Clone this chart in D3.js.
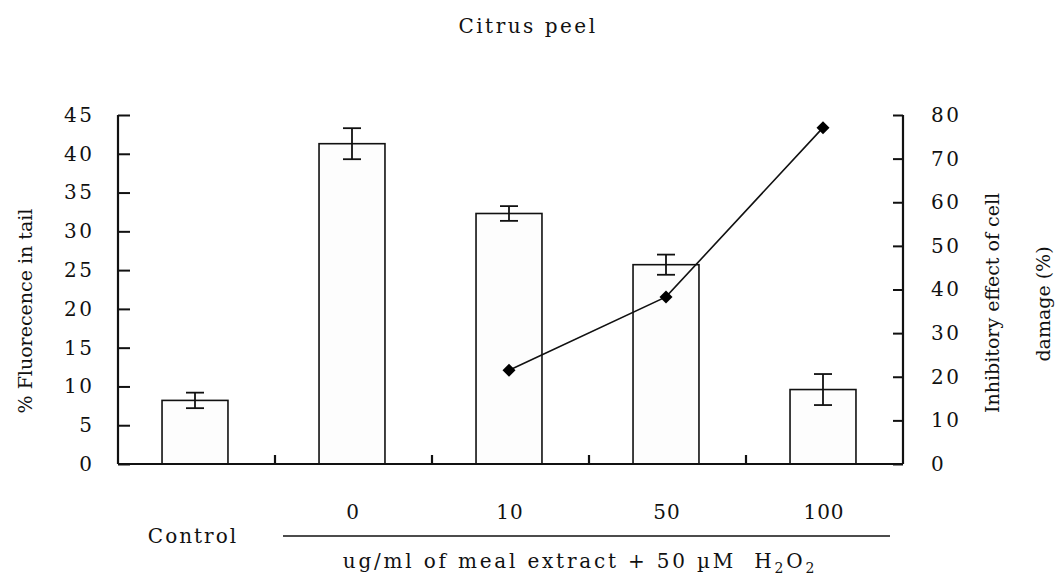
<!DOCTYPE html>
<html>
<head>
<meta charset="utf-8">
<script src="https://cdn.jsdelivr.net/npm/d3@7"></script>
<style>
  html, body { margin: 0; padding: 0; background: #fff; }
  svg { display: block; }
  text { font-family: "DejaVu Serif", serif; fill: #111; }
</style>
</head>
<body>
<svg id="chart" width="1059" height="576"></svg>
<script>
// Comet assay: % fluorescence in tail (bars, left axis) and
// inhibitory effect on cell damage (line, right axis)
const categories   = ["Control", "0", "10", "50", "100"];
const fluorescence = [8.2, 41.3, 32.3, 25.7, 9.6];
const fluorErr     = [1.0, 2.0, 0.95, 1.3, 2.0];
const inhibition   = [null, null, 21.5, 38.3, 77.1];
const leftTicks    = [0, 5, 10, 15, 20, 25, 30, 35, 40, 45];
const rightTicks   = [0, 10, 20, 30, 40, 50, 60, 70, 80];

const svg = d3.select("#chart");
const plot = { left: 118, right: 903, top: 115, bottom: 464 };

const x = d3.scaleBand().domain(categories).range([plot.left, plot.right]).padding(0);
const yL = d3.scaleLinear().domain([0, 45]).range([plot.bottom, plot.top]);
const yR = d3.scaleLinear().domain([0, 80]).range([plot.bottom, plot.top]);
const barW = x.bandwidth() * 0.42;
const cx = c => x(c) + x.bandwidth() / 2 - 1.5;

// Title
svg.append("text")
  .attr("x", 528).attr("y", 33)
  .attr("text-anchor", "middle")
  .style("font-size", "20px").style("letter-spacing", "2.5px")
  .text("Citrus peel");

// Bars
const data = categories.map((c, i) => ({ c, v: fluorescence[i], e: fluorErr[i], r: inhibition[i] }));
svg.append("g").selectAll("rect").data(data).join("rect")
  .attr("x", d => cx(d.c) - barW / 2)
  .attr("y", d => yL(d.v))
  .attr("width", barW)
  .attr("height", d => yL(0) - yL(d.v))
  .attr("fill", "#fdfdfd")
  .attr("stroke", "#111")
  .attr("stroke-width", 1.6);

// Error bars
const eb = svg.append("g").attr("stroke", "#111").attr("stroke-width", 1.8);
data.forEach(d => {
  const xc = cx(d.c);
  eb.append("line").attr("x1", xc).attr("x2", xc).attr("y1", yL(d.v + d.e)).attr("y2", yL(d.v - d.e));
  eb.append("line").attr("x1", xc - 9).attr("x2", xc + 9).attr("y1", yL(d.v + d.e)).attr("y2", yL(d.v + d.e));
  eb.append("line").attr("x1", xc - 9).attr("x2", xc + 9).attr("y1", yL(d.v - d.e)).attr("y2", yL(d.v - d.e));
});

// Inhibition line with diamond markers
const pts = data.filter(d => d.r !== null);
svg.append("path")
  .datum(pts)
  .attr("fill", "none").attr("stroke", "#111").attr("stroke-width", 1.6)
  .attr("d", d3.line().x(d => cx(d.c)).y(d => yR(d.r)));
svg.append("g").selectAll("path").data(pts).join("path")
  .attr("transform", d => `translate(${cx(d.c)},${yR(d.r)}) rotate(45)`)
  .attr("d", d3.symbol(d3.symbolSquare, 85)())
  .attr("fill", "#000");

// Left axis
const axL = svg.append("g").attr("transform", `translate(${plot.left},0)`)
  .call(d3.axisLeft(yL).tickValues(leftTicks).tickSizeInner(-12).tickSizeOuter(0).tickPadding(26));
// Right axis
const axR = svg.append("g").attr("transform", `translate(${plot.right},0)`)
  .call(d3.axisRight(yR).tickValues(rightTicks).tickSizeInner(-10).tickSizeOuter(0).tickPadding(28));
[axL, axR].forEach(a => {
  a.select(".domain").attr("stroke", "#111").attr("stroke-width", 2.2)
    .attr("d", `M0,${plot.top}V${plot.bottom}`);
  a.selectAll(".tick line").attr("stroke", "#111").attr("stroke-width", 2);
  a.selectAll(".tick text")
    .style("font-family", "'DejaVu Serif', serif")
    .style("font-size", "20px").style("letter-spacing", "2.5px")
    .attr("fill", "#111");
});
axL.selectAll(".tick text").attr("dx", "2.5px");

// Bottom axis: baseline and category dividers
const axB = svg.append("g").attr("transform", `translate(0,${plot.bottom})`)
  .call(d3.axisBottom(x).tickFormat("").tickSize(0));
axB.select(".domain").attr("stroke", "#111").attr("stroke-width", 2.2)
  .attr("d", `M${plot.left},0H${plot.right}`);
axB.selectAll(".tick").remove();
const dividers = categories.slice(1).map(c => x(c));
svg.append("g").selectAll("line").data(dividers).join("line")
  .attr("x1", d => d).attr("x2", d => d)
  .attr("y1", plot.bottom).attr("y2", plot.bottom - 9)
  .attr("stroke", "#111").attr("stroke-width", 2.2);

// Category labels
svg.append("g").selectAll("text").data(categories.slice(1)).join("text")
  .attr("x", d => cx(d) + 1)
  .attr("y", 519)
  .attr("text-anchor", "middle")
  .style("font-size", "20px").style("letter-spacing", "1px")
  .text(d => d);
svg.append("text")
  .attr("x", cx(categories[0]) - 2).attr("y", 543)
  .attr("text-anchor", "middle")
  .style("font-size", "20px").style("letter-spacing", "2px")
  .text(categories[0]);

// Group bracket line and treatment label
svg.append("line")
  .attr("x1", 283).attr("x2", 890).attr("y1", 536).attr("y2", 536)
  .attr("stroke", "#111").attr("stroke-width", 1.6);
const tl = svg.append("text")
  .attr("x", 580).attr("y", 568)
  .attr("text-anchor", "middle")
  .style("font-size", "20px").style("letter-spacing", "2.8px");
tl.append("tspan").text("ug/ml of meal extract + 50 \u00B5M\u00A0\u00A0H");
tl.append("tspan").attr("dy", 5).style("font-size", "14px").text("2");
tl.append("tspan").attr("dy", -5).text("O");
tl.append("tspan").attr("dy", 5).style("font-size", "14px").text("2");

// Axis titles
svg.append("text")
  .attr("transform", "translate(32,311) rotate(-90)")
  .attr("text-anchor", "middle")
  .style("font-size", "19px")
  .text("% Fluorecence in tail");
svg.append("text")
  .attr("transform", "translate(999,303) rotate(-90)")
  .attr("text-anchor", "middle")
  .style("font-size", "19px")
  .text("Inhibitory effect of cell");
svg.append("text")
  .attr("transform", "translate(1050,304) rotate(-90)")
  .attr("text-anchor", "middle")
  .style("font-size", "19px")
  .text("damage (%)");
</script>
</body>
</html>
